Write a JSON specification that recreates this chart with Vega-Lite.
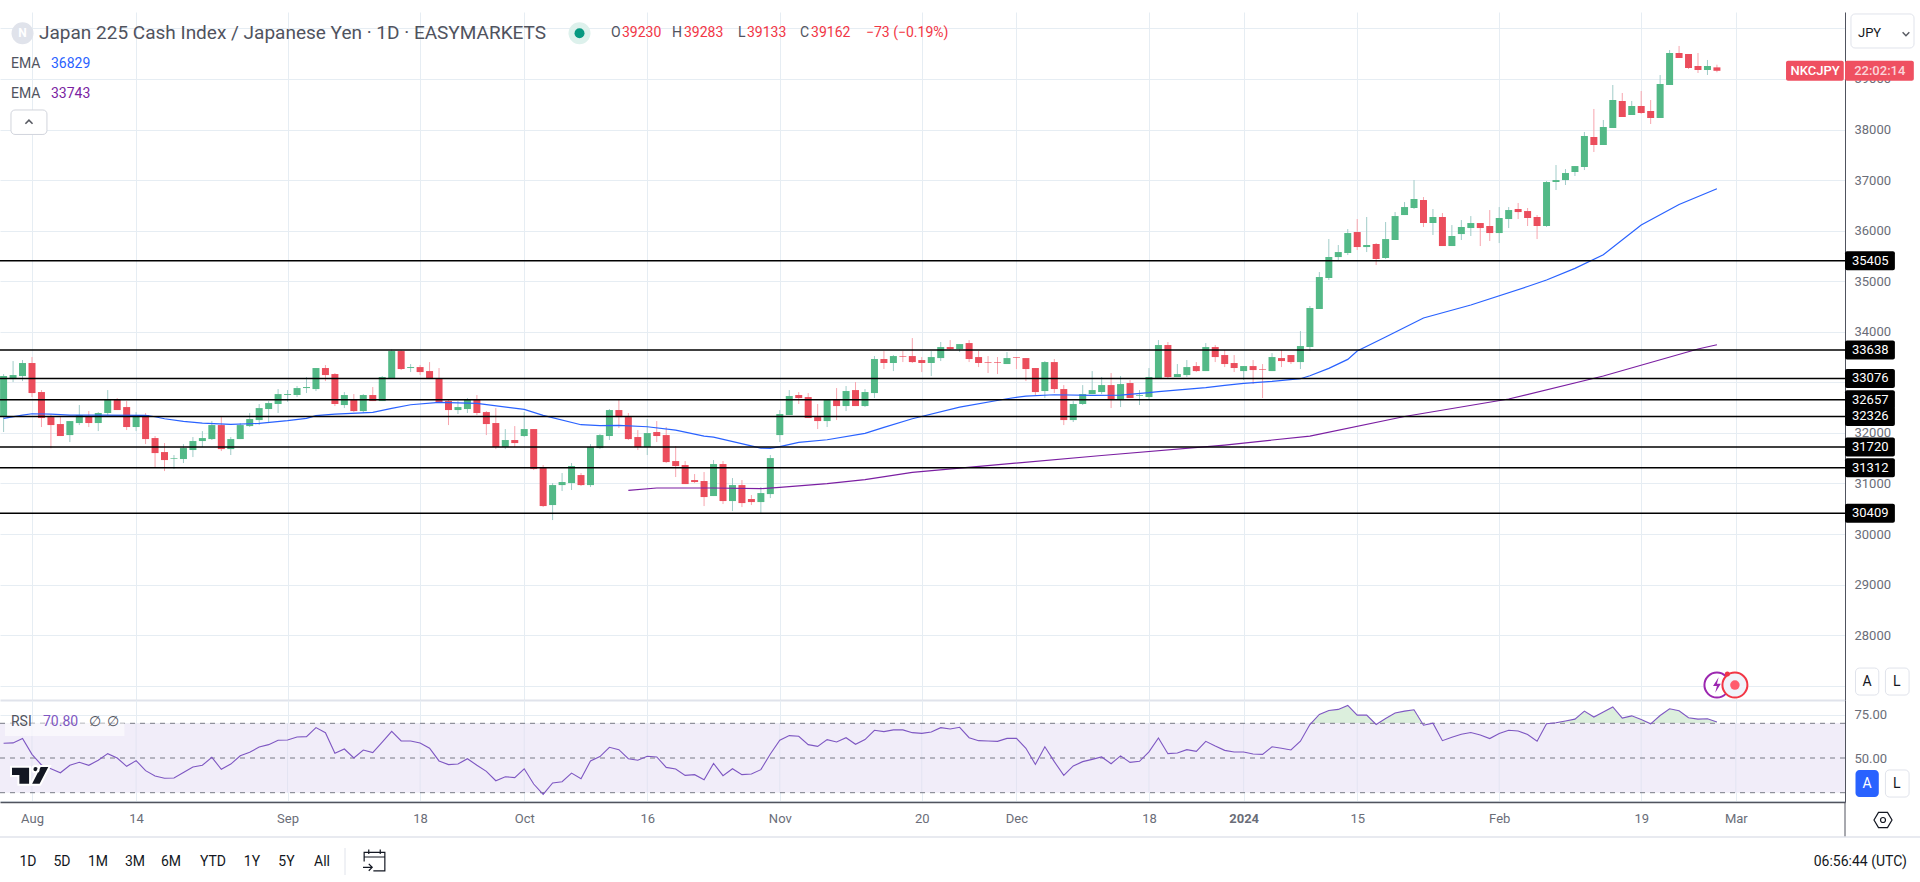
{"$schema":"https://vega.github.io/schema/vega-lite/v6.json","background":"white","padding":{"left":-1,"top":12,"right":0,"bottom":0},"spacing":0,"bounds":"flush",
"config":{"font":"Roboto","view":{"stroke":null},"text":{"baseline":"middle"}},
"data":{"values":[{}]},
"datasets":{
"candles":[
{"bar":-3,"o":32333,"h":33164,"l":32017,"c":33124},{"bar":-2,"o":33065,"h":33421,"l":33006,"c":33144},{"bar":-1,"o":33124,"h":33441,"l":33025,"c":33382},{"bar":0,"o":33382,"h":33500,"l":32709,"c":32788},{"bar":1,"o":32808,"h":32847,"l":32116,"c":32294},{"bar":2,"o":32313,"h":32373,"l":31694,"c":32155},{"bar":3,"o":32175,"h":32313,"l":31938,"c":31938},{"bar":4,"o":31957,"h":32234,"l":31819,"c":32234},{"bar":5,"o":32195,"h":32551,"l":32155,"c":32353},{"bar":6,"o":32333,"h":32432,"l":32116,"c":32195},
{"bar":7,"o":32195,"h":32412,"l":32036,"c":32393},{"bar":8,"o":32393,"h":32847,"l":32353,"c":32656},{"bar":9,"o":32656,"h":32689,"l":32452,"c":32452},{"bar":10,"o":32511,"h":32630,"l":32056,"c":32116},{"bar":11,"o":32116,"h":32412,"l":32036,"c":32353},{"bar":12,"o":32353,"h":32393,"l":31779,"c":31878},{"bar":13,"o":31898,"h":31938,"l":31305,"c":31601},{"bar":14,"o":31621,"h":31799,"l":31245,"c":31463},{"bar":15,"o":31489,"h":31562,"l":31285,"c":31502},{"bar":16,"o":31483,"h":31779,"l":31404,"c":31700},
{"bar":17,"o":31661,"h":31918,"l":31522,"c":31839},{"bar":18,"o":31839,"h":32036,"l":31720,"c":31898},{"bar":19,"o":31878,"h":32234,"l":31859,"c":32155},{"bar":20,"o":32155,"h":32313,"l":31641,"c":31680},{"bar":21,"o":31680,"h":31918,"l":31562,"c":31878},{"bar":22,"o":31878,"h":32195,"l":31878,"c":32155},{"bar":23,"o":32135,"h":32393,"l":32116,"c":32274},{"bar":24,"o":32254,"h":32571,"l":32155,"c":32491},{"bar":25,"o":32472,"h":32630,"l":32195,"c":32590},{"bar":26,"o":32571,"h":32867,"l":32393,"c":32768},
{"bar":27,"o":32749,"h":32847,"l":32617,"c":32768},{"bar":28,"o":32749,"h":32927,"l":32709,"c":32887},{"bar":29,"o":32887,"h":33105,"l":32788,"c":32907},{"bar":30,"o":32867,"h":33283,"l":32828,"c":33283},{"bar":31,"o":33283,"h":33342,"l":33025,"c":33144},{"bar":32,"o":33164,"h":33184,"l":32531,"c":32571},{"bar":33,"o":32551,"h":32808,"l":32491,"c":32749},{"bar":34,"o":32656,"h":32768,"l":32412,"c":32432},{"bar":35,"o":32432,"h":32768,"l":32393,"c":32749},{"bar":36,"o":32749,"h":32907,"l":32630,"c":32630},
{"bar":37,"o":32630,"h":33124,"l":32630,"c":33105},{"bar":38,"o":33085,"h":33652,"l":33085,"c":33619},{"bar":39,"o":33619,"h":33639,"l":33243,"c":33263},{"bar":40,"o":33283,"h":33362,"l":33203,"c":33302},{"bar":41,"o":33302,"h":33342,"l":33144,"c":33203},{"bar":42,"o":33223,"h":33401,"l":33065,"c":33065},{"bar":43,"o":33085,"h":33283,"l":32610,"c":32610},{"bar":44,"o":32630,"h":32650,"l":32155,"c":32452},{"bar":45,"o":32452,"h":32630,"l":32373,"c":32511},{"bar":46,"o":32472,"h":32689,"l":32393,"c":32670},
{"bar":47,"o":32670,"h":32749,"l":32353,"c":32393},{"bar":48,"o":32412,"h":32432,"l":31957,"c":32175},{"bar":49,"o":32195,"h":32491,"l":31680,"c":31720},{"bar":50,"o":31720,"h":32076,"l":31680,"c":31859},{"bar":51,"o":31859,"h":32135,"l":31720,"c":31799},{"bar":52,"o":31938,"h":32412,"l":31918,"c":32076},{"bar":53,"o":32076,"h":32076,"l":31265,"c":31285},{"bar":54,"o":31305,"h":31364,"l":30533,"c":30553},{"bar":55,"o":30573,"h":31008,"l":30276,"c":30968},{"bar":56,"o":30968,"h":31206,"l":30850,"c":31028},
{"bar":57,"o":31008,"h":31404,"l":30870,"c":31344},{"bar":58,"o":31166,"h":31206,"l":30949,"c":30968},{"bar":59,"o":30968,"h":31779,"l":30929,"c":31720},{"bar":60,"o":31700,"h":31977,"l":31680,"c":31957},{"bar":61,"o":31938,"h":32472,"l":31859,"c":32452},{"bar":62,"o":32452,"h":32670,"l":32096,"c":32313},{"bar":63,"o":32313,"h":32393,"l":31859,"c":31878},{"bar":64,"o":31918,"h":32056,"l":31661,"c":31720},{"bar":65,"o":31720,"h":32274,"l":31562,"c":31997},{"bar":66,"o":32017,"h":32234,"l":31819,"c":31938},
{"bar":67,"o":31957,"h":32116,"l":31404,"c":31423},{"bar":68,"o":31443,"h":31740,"l":31127,"c":31344},{"bar":69,"o":31364,"h":31443,"l":30988,"c":30988},{"bar":70,"o":31067,"h":31186,"l":31008,"c":31028},{"bar":71,"o":31048,"h":31226,"l":30553,"c":30731},{"bar":72,"o":30751,"h":31463,"l":30751,"c":31384},{"bar":73,"o":31384,"h":31443,"l":30593,"c":30652},{"bar":74,"o":30652,"h":31107,"l":30454,"c":30968},{"bar":75,"o":30968,"h":31067,"l":30533,"c":30612},{"bar":76,"o":30692,"h":30771,"l":30573,"c":30632},
{"bar":77,"o":30632,"h":30929,"l":30395,"c":30810},{"bar":78,"o":30790,"h":31562,"l":30711,"c":31502},{"bar":79,"o":31957,"h":32452,"l":31819,"c":32373},{"bar":80,"o":32353,"h":32847,"l":32353,"c":32729},{"bar":81,"o":32749,"h":32808,"l":32571,"c":32689},{"bar":82,"o":32709,"h":32788,"l":32294,"c":32294},{"bar":83,"o":32313,"h":32571,"l":32076,"c":32234},{"bar":84,"o":32234,"h":32670,"l":32116,"c":32656},{"bar":85,"o":32656,"h":32887,"l":32254,"c":32531},{"bar":86,"o":32531,"h":32927,"l":32432,"c":32828},
{"bar":87,"o":32847,"h":33006,"l":32531,"c":32531},{"bar":88,"o":32531,"h":32867,"l":32511,"c":32808},{"bar":89,"o":32788,"h":33520,"l":32689,"c":33461},{"bar":90,"o":33461,"h":33619,"l":33263,"c":33382},{"bar":91,"o":33382,"h":33540,"l":33223,"c":33520},{"bar":92,"o":33520,"h":33619,"l":33401,"c":33507},{"bar":93,"o":33520,"h":33876,"l":33382,"c":33401},{"bar":94,"o":33441,"h":33500,"l":33203,"c":33382},{"bar":95,"o":33382,"h":33619,"l":33124,"c":33500},{"bar":96,"o":33480,"h":33797,"l":33421,"c":33698},
{"bar":97,"o":33698,"h":33836,"l":33639,"c":33658},{"bar":98,"o":33658,"h":33757,"l":33599,"c":33757},{"bar":99,"o":33777,"h":33836,"l":33401,"c":33461},{"bar":100,"o":33500,"h":33619,"l":33302,"c":33382},{"bar":101,"o":33401,"h":33520,"l":33184,"c":33388},{"bar":102,"o":33401,"h":33500,"l":33164,"c":33388},{"bar":103,"o":33362,"h":33599,"l":33362,"c":33480},{"bar":104,"o":33500,"h":33500,"l":33263,"c":33487},{"bar":105,"o":33480,"h":33480,"l":33025,"c":33263},{"bar":106,"o":33283,"h":33283,"l":32729,"c":32808},
{"bar":107,"o":32828,"h":33421,"l":32689,"c":33401},{"bar":108,"o":33401,"h":33461,"l":32788,"c":32867},{"bar":109,"o":32867,"h":32946,"l":32155,"c":32254},{"bar":110,"o":32254,"h":32630,"l":32215,"c":32571},{"bar":111,"o":32571,"h":32946,"l":32551,"c":32768},{"bar":112,"o":32768,"h":33223,"l":32768,"c":32847},{"bar":113,"o":32808,"h":33105,"l":32768,"c":32946},{"bar":114,"o":32946,"h":33184,"l":32491,"c":32670},{"bar":115,"o":32670,"h":33124,"l":32511,"c":32966},{"bar":116,"o":32986,"h":33045,"l":32689,"c":32689},
{"bar":117,"o":32735,"h":32847,"l":32551,"c":32749},{"bar":118,"o":32709,"h":33283,"l":32650,"c":33105},{"bar":119,"o":33065,"h":33836,"l":33065,"c":33738},{"bar":120,"o":33738,"h":33797,"l":33065,"c":33105},{"bar":121,"o":33105,"h":33362,"l":33105,"c":33164},{"bar":122,"o":33144,"h":33441,"l":33105,"c":33302},{"bar":123,"o":33322,"h":33401,"l":33203,"c":33223},{"bar":124,"o":33223,"h":33777,"l":33223,"c":33698},{"bar":125,"o":33698,"h":33738,"l":33401,"c":33500},{"bar":126,"o":33540,"h":33639,"l":33302,"c":33362},
{"bar":127,"o":33382,"h":33540,"l":33203,"c":33283},{"bar":128,"o":33223,"h":33322,"l":33045,"c":33322},{"bar":129,"o":33322,"h":33441,"l":32966,"c":33243},{"bar":130,"o":33263,"h":33362,"l":32689,"c":33250},{"bar":131,"o":33223,"h":33579,"l":33223,"c":33500},{"bar":132,"o":33480,"h":33639,"l":33302,"c":33421},{"bar":133,"o":33540,"h":33540,"l":33362,"c":33401},{"bar":134,"o":33401,"h":34014,"l":33263,"c":33718},{"bar":135,"o":33699,"h":34510,"l":33620,"c":34470},{"bar":136,"o":34451,"h":35182,"l":34451,"c":35083},
{"bar":137,"o":35064,"h":35835,"l":35024,"c":35479},{"bar":138,"o":35478,"h":35716,"l":35419,"c":35577},{"bar":139,"o":35558,"h":36032,"l":35518,"c":35953},{"bar":140,"o":35973,"h":36230,"l":35617,"c":35676},{"bar":141,"o":35676,"h":36270,"l":35577,"c":35716},{"bar":142,"o":35736,"h":35755,"l":35320,"c":35439},{"bar":143,"o":35459,"h":36171,"l":35439,"c":35834},{"bar":144,"o":35815,"h":36368,"l":35815,"c":36289},{"bar":145,"o":36309,"h":36566,"l":36309,"c":36467},{"bar":146,"o":36448,"h":37001,"l":36428,"c":36626},
{"bar":147,"o":36606,"h":36665,"l":36072,"c":36151},{"bar":148,"o":36151,"h":36428,"l":35914,"c":36270},{"bar":149,"o":36270,"h":36349,"l":35696,"c":35696},{"bar":150,"o":35696,"h":36111,"l":35696,"c":35894},{"bar":151,"o":35933,"h":36210,"l":35815,"c":36072},{"bar":152,"o":36052,"h":36289,"l":35894,"c":36151},{"bar":153,"o":36151,"h":36151,"l":35696,"c":36052},{"bar":154,"o":36092,"h":36408,"l":35795,"c":35953},{"bar":155,"o":35953,"h":36467,"l":35755,"c":36250},{"bar":156,"o":36230,"h":36467,"l":36052,"c":36408},
{"bar":157,"o":36428,"h":36547,"l":36230,"c":36368},{"bar":158,"o":36388,"h":36448,"l":36092,"c":36250},{"bar":159,"o":36270,"h":36309,"l":35834,"c":36092},{"bar":160,"o":36092,"h":36982,"l":36072,"c":36962},{"bar":161,"o":36962,"h":37298,"l":36804,"c":37001},{"bar":162,"o":37001,"h":37219,"l":36903,"c":37140},{"bar":163,"o":37160,"h":37278,"l":37081,"c":37278},{"bar":164,"o":37259,"h":37952,"l":37199,"c":37872},{"bar":165,"o":37853,"h":38407,"l":37556,"c":37694},{"bar":166,"o":37694,"h":38189,"l":37694,"c":38050},
{"bar":167,"o":38031,"h":38881,"l":38031,"c":38584},{"bar":168,"o":38565,"h":38723,"l":38248,"c":38248},{"bar":169,"o":38288,"h":38565,"l":38288,"c":38466},{"bar":170,"o":38466,"h":38762,"l":38308,"c":38327},{"bar":171,"o":38367,"h":38584,"l":38110,"c":38228},{"bar":172,"o":38228,"h":39079,"l":38228,"c":38901},{"bar":173,"o":38881,"h":39573,"l":38881,"c":39514},{"bar":174,"o":39514,"h":39653,"l":39415,"c":39415},{"bar":175,"o":39494,"h":39494,"l":39198,"c":39217},{"bar":176,"o":39257,"h":39514,"l":39119,"c":39178},
{"bar":177,"o":39178,"h":39376,"l":39079,"c":39257},{"bar":178,"o":39230,"h":39283,"l":39133,"c":39162}],
"ema50":[{"bar":-3,"ema":32287},{"bar":-1,"ema":32353},{"bar":0,"ema":32379},{"bar":2,"ema":32373},{"bar":4,"ema":32353},{"bar":7,"ema":32353},{"bar":12,"ema":32346},{"bar":13,"ema":32320},{"bar":14,"ema":32280},{"bar":16,"ema":32228},{"bar":18,"ema":32195},{"bar":21,"ema":32168},{"bar":24,"ema":32188},{"bar":27,"ema":32241},{"bar":29,"ema":32287},{"bar":30,"ema":32340},{"bar":32,"ema":32373},{"bar":36,"ema":32406},{"bar":38,"ema":32485},{"bar":40,"ema":32557},{"bar":43,"ema":32604},{"bar":47,"ema":32584},{"bar":52,"ema":32465},{"bar":54,"ema":32346},{"bar":58,"ema":32162},{"bar":60,"ema":32142},{"bar":62,"ema":32149},{"bar":65,"ema":32122},{"bar":68,"ema":32056},{"bar":71,"ema":31938},{"bar":72,"ema":31918},{"bar":77,"ema":31700},{"bar":78,"ema":31694},{"bar":79,"ema":31727},{"bar":81,"ema":31812},{"bar":84,"ema":31865},{"bar":88,"ema":31990},{"bar":90,"ema":32109},{"bar":93,"ema":32280},{"bar":98,"ema":32511},{"bar":103,"ema":32676},{"bar":105,"ema":32729},{"bar":108,"ema":32755},{"bar":112,"ema":32742},{"bar":115,"ema":32749},{"bar":118,"ema":32795},{"bar":119,"ema":32815},{"bar":124,"ema":32894},{"bar":126,"ema":32940},{"bar":128,"ema":32979},{"bar":131,"ema":33019},{"bar":134,"ema":33072},{"bar":135,"ema":33131},{"bar":137,"ema":33276},{"bar":139,"ema":33454},{"bar":140,"ema":33620},{"bar":143,"ema":33897},{"bar":147,"ema":34272},{"bar":152,"ema":34530},{"bar":158,"ema":34895},{"bar":160,"ema":35024},{"bar":163,"ema":35255},{"bar":166,"ema":35525},{"bar":170,"ema":36112},{"bar":174,"ema":36518},{"bar":178,"ema":36829}],
"ema200":[{"bar":63,"ema":30864},{"bar":66,"ema":30910},{"bar":72,"ema":30910},{"bar":77,"ema":30896},{"bar":79,"ema":30924},{"bar":84,"ema":30995},{"bar":88,"ema":31074},{"bar":93,"ema":31220},{"bar":98,"ema":31305},{"bar":113,"ema":31553},{"bar":126,"ema":31760},{"bar":135,"ema":31938},{"bar":145,"ema":32324},{"bar":156,"ema":32670},{"bar":166,"ema":33125},{"bar":176,"ema":33659},{"bar":178,"ema":33743}],
"levels":[{"level":35405},{"level":33638},{"level":33076},{"level":32657},{"level":32326},{"level":31720},{"level":31312},{"level":30409}],
"ticks":[{"bar":0},{"bar":11},{"bar":27},{"bar":41},{"bar":52},{"bar":65},{"bar":79},{"bar":94},{"bar":104},{"bar":118},{"bar":128},{"bar":140},{"bar":155},{"bar":170},{"bar":180}],
"rsiLevels":[{"level":70},{"level":50},{"level":30}],
"rsi":[{"bar":-3,"rsi":58.5},{"bar":-2,"rsi":58.7},{"bar":-1,"rsi":61.2},{"bar":0,"rsi":52.1},{"bar":1,"rsi":46},{"bar":2,"rsi":43.8},{"bar":3,"rsi":41.5},{"bar":4,"rsi":45.8},{"bar":5,"rsi":47.5},{"bar":6,"rsi":45.8},{"bar":7,"rsi":48.7},{"bar":8,"rsi":52.5},{"bar":9,"rsi":50},{"bar":10,"rsi":45.2},{"bar":11,"rsi":48.5},{"bar":12,"rsi":42.7},{"bar":13,"rsi":39.6},{"bar":14,"rsi":38.3},{"bar":15,"rsi":38.5},{"bar":16,"rsi":41.7},{"bar":17,"rsi":44.8},{"bar":18,"rsi":45.8},{"bar":19,"rsi":50.4},{"bar":20,"rsi":43.5},{"bar":21,"rsi":46.5},{"bar":22,"rsi":51.3},{"bar":23,"rsi":53.3},{"bar":24,"rsi":56.3},{"bar":25,"rsi":57.7},{"bar":26,"rsi":60.2},{"bar":27,"rsi":60.4},{"bar":28,"rsi":62.1},{"bar":29,"rsi":62.3},{"bar":30,"rsi":67.5},{"bar":31,"rsi":64.6},{"bar":32,"rsi":52.7},{"bar":33,"rsi":55.2},{"bar":34,"rsi":50},{"bar":35,"rsi":54.6},{"bar":36,"rsi":53.1},{"bar":37,"rsi":59.2},{"bar":38,"rsi":65.4},{"bar":39,"rsi":59.8},{"bar":40,"rsi":59.8},{"bar":41,"rsi":58.7},{"bar":42,"rsi":55.6},{"bar":43,"rsi":48.3},{"bar":44,"rsi":46.2},{"bar":45,"rsi":46.5},{"bar":46,"rsi":49.6},{"bar":47,"rsi":45.8},{"bar":48,"rsi":42.3},{"bar":49,"rsi":36.9},{"bar":50,"rsi":39.2},{"bar":51,"rsi":38.7},{"bar":52,"rsi":43.8},{"bar":53,"rsi":35},{"bar":54,"rsi":29},{"bar":55,"rsi":35.6},{"bar":56,"rsi":36.3},{"bar":57,"rsi":41.3},{"bar":58,"rsi":38.1},{"bar":59,"rsi":48.3},{"bar":60,"rsi":50.8},{"bar":61,"rsi":56.2},{"bar":62,"rsi":54.8},{"bar":63,"rsi":49.6},{"bar":64,"rsi":48.7},{"bar":65,"rsi":51},{"bar":66,"rsi":50.6},{"bar":67,"rsi":44.6},{"bar":68,"rsi":43.7},{"bar":69,"rsi":40},{"bar":70,"rsi":40.4},{"bar":71,"rsi":37.5},{"bar":72,"rsi":46.9},{"bar":73,"rsi":39.8},{"bar":74,"rsi":43.8},{"bar":75,"rsi":40.4},{"bar":76,"rsi":40.8},{"bar":77,"rsi":43.3},{"bar":78,"rsi":52.3},{"bar":79,"rsi":60.2},{"bar":80,"rsi":62.9},{"bar":81,"rsi":62.5},{"bar":82,"rsi":57.7},{"bar":83,"rsi":56.7},{"bar":84,"rsi":60.6},{"bar":85,"rsi":59.2},{"bar":86,"rsi":61.7},{"bar":87,"rsi":57.9},{"bar":88,"rsi":60.6},{"bar":89,"rsi":66},{"bar":90,"rsi":65.2},{"bar":91,"rsi":66.2},{"bar":92,"rsi":66.2},{"bar":93,"rsi":64.6},{"bar":94,"rsi":64.2},{"bar":95,"rsi":65},{"bar":96,"rsi":67.5},{"bar":97,"rsi":66.7},{"bar":98,"rsi":67.7},{"bar":99,"rsi":61.7},{"bar":100,"rsi":60},{"bar":101,"rsi":59.8},{"bar":102,"rsi":59.6},{"bar":103,"rsi":61.3},{"bar":104,"rsi":61.3},{"bar":105,"rsi":55.6},{"bar":106,"rsi":46.3},{"bar":107,"rsi":56.5},{"bar":108,"rsi":47.9},{"bar":109,"rsi":40},{"bar":110,"rsi":45.4},{"bar":111,"rsi":47.9},{"bar":112,"rsi":49.2},{"bar":113,"rsi":50.6},{"bar":114,"rsi":46.7},{"bar":115,"rsi":51.2},{"bar":116,"rsi":47.5},{"bar":117,"rsi":48.1},{"bar":118,"rsi":53.5},{"bar":119,"rsi":61.5},{"bar":120,"rsi":52.5},{"bar":121,"rsi":52.9},{"bar":122,"rsi":54.8},{"bar":123,"rsi":53.8},{"bar":124,"rsi":59.6},{"bar":125,"rsi":56.9},{"bar":126,"rsi":54.4},{"bar":127,"rsi":53.5},{"bar":128,"rsi":53.5},{"bar":129,"rsi":52.3},{"bar":130,"rsi":52.1},{"bar":131,"rsi":56.5},{"bar":132,"rsi":55.6},{"bar":133,"rsi":54.6},{"bar":134,"rsi":59.7},{"bar":135,"rsi":69.3},{"bar":136,"rsi":75.1},{"bar":137,"rsi":77.4},{"bar":138,"rsi":78},{"bar":139,"rsi":80.3},{"bar":140,"rsi":74.7},{"bar":141,"rsi":74.7},{"bar":142,"rsi":69.3},{"bar":143,"rsi":72.8},{"bar":144,"rsi":75.9},{"bar":145,"rsi":77},{"bar":146,"rsi":77.8},{"bar":147,"rsi":68.9},{"bar":148,"rsi":70.1},{"bar":149,"rsi":60},{"bar":150,"rsi":62},{"bar":151,"rsi":63.7},{"bar":152,"rsi":64.7},{"bar":153,"rsi":63.3},{"bar":154,"rsi":61.2},{"bar":155,"rsi":64.1},{"bar":156,"rsi":66},{"bar":157,"rsi":65.6},{"bar":158,"rsi":63.5},{"bar":159,"rsi":59.7},{"bar":160,"rsi":69.7},{"bar":161,"rsi":70.3},{"bar":162,"rsi":71.3},{"bar":163,"rsi":72.4},{"bar":164,"rsi":77},{"bar":165,"rsi":73.6},{"bar":166,"rsi":76.5},{"bar":167,"rsi":79.4},{"bar":168,"rsi":73},{"bar":169,"rsi":74.3},{"bar":170,"rsi":72.2},{"bar":171,"rsi":69.7},{"bar":172,"rsi":74.5},{"bar":173,"rsi":78.4},{"bar":174,"rsi":77.2},{"bar":175,"rsi":73.2},{"bar":176,"rsi":72.4},{"bar":177,"rsi":72.6},{"bar":178,"rsi":70.8}]
},
"vconcat":[
{"width":1845,"height":688,"layer":[
{"data":{"name":"candles"},"mark":{"type":"rule","strokeWidth":1},"encoding":{
"x":{"field":"bar","type":"quantitative","title":null,"scale":{"domain":[-3.38,191.53],"nice":false,"zero":false,"padding":0},"axis":{"orient":"bottom","values":[0,11,27,41,52,65,79,94,104,118,128,140,155,170,180],"grid":true,"gridColor":"#E6EDF3","gridWidth":1,"labels":false,"ticks":false,"domain":true,"domainColor":"#E0E3EB","domainWidth":2,"title":null}},
"y":{"field":"l","type":"quantitative","title":null,"scale":{"domain":[26717,40325],"nice":false,"zero":false,"padding":0},"axis":{"orient":"right","values":[27000,28000,29000,30000,31000,32000,33000,34000,35000,36000,37000,38000,39000,40000],"grid":true,"gridColor":"#E6EDF3","gridWidth":1,"ticks":false,"domain":true,"domainColor":"#50535E","domainWidth":1,"labelColor":"#6A6D78","labelFontSize":13,"labelPadding":9,"title":null,"labelExpr":"datum.value<28000||datum.value>39000||datum.value==33000?'':format(datum.value,'d')"}},
"y2":{"field":"h"},
"color":{"condition":{"test":"datum.c>=datum.o","value":"#A0CCC8"},"value":"#F7A5AE"}}},
{"data":{"name":"candles"},"mark":{"type":"bar","size":7,"orient":"vertical"},"encoding":{"x":{"field":"bar","type":"quantitative"},"y":{"field":"o","type":"quantitative"},"y2":{"field":"c"},"color":{"condition":{"test":"datum.c>=datum.o","value":"#53B987"},"value":"#EB4D5C"}}},
{"data":{"name":"ema50"},"mark":{"type":"line","color":"#2962FF","strokeWidth":1.2},"encoding":{"x":{"field":"bar","type":"quantitative"},"y":{"field":"ema","type":"quantitative"}}},
{"data":{"name":"ema200"},"mark":{"type":"line","color":"#7B1FA2","strokeWidth":1.2},"encoding":{"x":{"field":"bar","type":"quantitative"},"y":{"field":"ema","type":"quantitative"}}},
{"data":{"name":"levels"},"mark":{"type":"rule","color":"#000000","strokeWidth":1.5},"encoding":{"y":{"field":"level","type":"quantitative"}}},
{"data":{"name":"levels"},"mark":{"type":"bar","orient":"horizontal","size":19,"color":"#000000","cornerRadius":2},"encoding":{"x":{"datum":191.53},"x2":{"datum":196.8},"y":{"field":"level","type":"quantitative"}}},
{"data":{"name":"levels"},"mark":{"type":"text","color":"#FFFFFF","fontSize":13,"align":"center"},"encoding":{"x":{"datum":194.2},"y":{"field":"level","type":"quantitative"},"text":{"field":"level","type":"quantitative","format":"d"}}},
{"mark":{"type":"bar","orient":"horizontal","size":20,"color":"#EF5061","cornerRadius":2},"encoding":{"x":{"datum":185.3},"x2":{"datum":191.4},"y":{"datum":39162}}},
{"mark":{"type":"bar","orient":"horizontal","size":20,"color":"#EF5061","cornerRadius":2},"encoding":{"x":{"datum":191.53},"x2":{"datum":198.8},"y":{"datum":39162}}},
{"mark":{"type":"text","color":"#FFFFFF","fontSize":13,"fontWeight":500,"align":"center"},"encoding":{"x":{"datum":188.37},"y":{"datum":39162},"text":{"value":"NKCJPY"}}},
{"mark":{"type":"text","color":"#FBD5DA","fontSize":13,"fontWeight":500,"align":"center"},"encoding":{"x":{"datum":195.2},"y":{"datum":39162},"text":{"value":"22:02:14"}}},
{"mark":{"type":"rect","fill":"#FFFFFF","stroke":"#E0E3EB","cornerRadius":4},"encoding":{"x":{"datum":192.16},"x2":{"datum":198.82},"y":{"datum":40286},"y2":{"datum":39613}}},
{"mark":{"type":"text","color":"#131722","fontSize":13,"align":"left"},"encoding":{"x":{"datum":192.9},"y":{"datum":39905},"text":{"value":"JPY"}}},
{"mark":{"type":"point","filled":false,"stroke":"#131722","strokeWidth":1.5,"shape":"M-.8,-.4 L0,.4 L.8,-.4","size":70},"encoding":{"x":{"datum":197.97},"y":{"datum":39890}}},
{"mark":{"type":"point","filled":true,"opacity":1,"color":"#E0E3EB","shape":"circle","size":484},"encoding":{"x":{"datum":-1},"y":{"datum":39905}}},
{"mark":{"type":"text","color":"#FFFFFF","fontSize":12,"fontWeight":700,"align":"center"},"encoding":{"x":{"datum":-1},"y":{"datum":39905},"text":{"value":"N"}}},
{"mark":{"type":"text","color":"#50535E","fontSize":19,"align":"left"},"encoding":{"x":{"datum":0.74},"y":{"datum":39905},"text":{"value":"Japan 225 Cash Index / Japanese Yen · 1D · EASYMARKETS"}}},
{"mark":{"type":"point","filled":true,"opacity":1,"color":"#DDF1EC","shape":"circle","size":484},"encoding":{"x":{"datum":57.84},"y":{"datum":39905}}},
{"mark":{"type":"point","filled":true,"opacity":1,"color":"#089981","shape":"circle","size":100},"encoding":{"x":{"datum":57.84},"y":{"datum":39905}}},
{"mark":{"type":"text","color":"#50535E","fontSize":14,"align":"left"},"encoding":{"x":{"datum":61.17},"y":{"datum":39905},"text":{"value":"O"}}},
{"mark":{"type":"text","color":"#F23645","fontSize":14,"align":"left"},"encoding":{"x":{"datum":62.33},"y":{"datum":39905},"text":{"value":"39230"}}},
{"mark":{"type":"text","color":"#50535E","fontSize":14,"align":"left"},"encoding":{"x":{"datum":67.6},"y":{"datum":39905},"text":{"value":"H"}}},
{"mark":{"type":"text","color":"#F23645","fontSize":14,"align":"left"},"encoding":{"x":{"datum":68.88},"y":{"datum":39905},"text":{"value":"39283"}}},
{"mark":{"type":"text","color":"#50535E","fontSize":14,"align":"left"},"encoding":{"x":{"datum":74.58},"y":{"datum":39905},"text":{"value":"L"}}},
{"mark":{"type":"text","color":"#F23645","fontSize":14,"align":"left"},"encoding":{"x":{"datum":75.53},"y":{"datum":39905},"text":{"value":"39133"}}},
{"mark":{"type":"text","color":"#50535E","fontSize":14,"align":"left"},"encoding":{"x":{"datum":81.13},"y":{"datum":39905},"text":{"value":"C"}}},
{"mark":{"type":"text","color":"#F23645","fontSize":14,"align":"left"},"encoding":{"x":{"datum":82.3},"y":{"datum":39905},"text":{"value":"39162"}}},
{"mark":{"type":"text","color":"#F23645","fontSize":14,"align":"left"},"encoding":{"x":{"datum":88.1},"y":{"datum":39905},"text":{"value":"−73 (−0.19%)"}}},
{"mark":{"type":"text","color":"#50535E","fontSize":14,"align":"left"},"encoding":{"x":{"datum":-2.22},"y":{"datum":39293},"text":{"value":"EMA"}}},
{"mark":{"type":"text","color":"#2962FF","fontSize":14,"align":"left"},"encoding":{"x":{"datum":2},"y":{"datum":39293},"text":{"value":"36829"}}},
{"mark":{"type":"text","color":"#50535E","fontSize":14,"align":"left"},"encoding":{"x":{"datum":-2.22},"y":{"datum":38713},"text":{"value":"EMA"}}},
{"mark":{"type":"text","color":"#7B1FA2","fontSize":14,"align":"left"},"encoding":{"x":{"datum":2},"y":{"datum":38713},"text":{"value":"33743"}}},
{"mark":{"type":"rect","fill":"#FFFFFF","stroke":"#D1D4DC","cornerRadius":4},"encoding":{"x":{"datum":-2.22},"x2":{"datum":1.58},"y":{"datum":38387},"y2":{"datum":37903}}},
{"mark":{"type":"point","filled":false,"stroke":"#131722","strokeWidth":1.6,"shape":"M-.8,.4 L0,-.4 L.8,.4","size":80},"encoding":{"x":{"datum":-0.32},"y":{"datum":38149}}},
{"mark":{"type":"rect","fill":"#FFFFFF","stroke":"#E0E3EB","cornerRadius":4},"encoding":{"x":{"datum":192.64},"x2":{"datum":195.1},"y":{"datum":27349},"y2":{"datum":26815}}},
{"mark":{"type":"rect","fill":"#FFFFFF","stroke":"#E0E3EB","cornerRadius":4},"encoding":{"x":{"datum":195.8},"x2":{"datum":198.3},"y":{"datum":27349},"y2":{"datum":26815}}},
{"mark":{"type":"text","color":"#131722","fontSize":14,"align":"center"},"encoding":{"x":{"datum":193.85},"y":{"datum":27082},"text":{"value":"A"}}},
{"mark":{"type":"text","color":"#131722","fontSize":14,"align":"center"},"encoding":{"x":{"datum":197},"y":{"datum":27082},"text":{"value":"L"}}},
{"mark":{"type":"point","filled":false,"opacity":1,"fill":"#FFFFFF","stroke":"#9C27B0","strokeWidth":2,"shape":"circle","size":625},"encoding":{"x":{"datum":178},"y":{"datum":27013}}},
{"mark":{"type":"point","filled":true,"opacity":1,"color":"#9C27B0","shape":"M.2,-.9 L-.45,.1 H0 L-.2,.9 L.45,-.15 H0 Z","size":300},"encoding":{"x":{"datum":178},"y":{"datum":27013}}},
{"mark":{"type":"point","filled":false,"opacity":1,"fill":"#F0F3FA","stroke":"#F23645","strokeWidth":2,"shape":"circle","size":625},"encoding":{"x":{"datum":179.9},"y":{"datum":27013}}},
{"mark":{"type":"point","filled":true,"opacity":1,"color":"#FF5D6E","shape":"circle","size":90},"encoding":{"x":{"datum":179.9},"y":{"datum":27013}}},
{"mark":{"type":"point","filled":true,"opacity":1,"color":"#F23645","shape":"circle","size":25},"encoding":{"x":{"datum":179.1},"y":{"datum":27230}}}
]},
{"width":1845,"height":102,"layer":[
{"data":{"name":"rsi"},"mark":{"type":"area","color":"#DCEFDD","opacity":1},"encoding":{
"x":{"field":"bar","type":"quantitative","title":null,"scale":{"domain":[-3.38,191.53],"nice":false,"zero":false,"padding":0},"axis":{"orient":"bottom","values":[0,11,27,41,52,65,79,94,104,118,128,140,155,170,180],"grid":true,"gridColor":"#E6EDF3","gridWidth":1,"labelColor":"#6A6D78","labelFontSize":13,"labelPadding":10,"ticks":false,"domain":true,"domainColor":"#50535E","domainWidth":1.5,"title":null,"labelExpr":"({'0':'Aug','11':'14','27':'Sep','41':'18','52':'Oct','65':'16','79':'Nov','94':'20','104':'Dec','118':'18','128':'2024','140':'15','155':'Feb','170':'19','180':'Mar'})[''+datum.value]","labelFontWeight":{"condition":{"test":"datum.value===128","value":"bold"},"value":"normal"}}},
"y":{"field":"rsi","type":"quantitative","title":null,"scale":{"domain":[24.64,83.43],"nice":false,"zero":false,"padding":0},"axis":{"orient":"right","values":[25,50,75],"grid":true,"gridColor":"#E6EDF3","gridWidth":1,"ticks":false,"domain":true,"domainColor":"#50535E","domainWidth":1,"labelColor":"#6A6D78","labelFontSize":13,"labelPadding":9,"title":null,"labelExpr":"datum.value==25?'':format(datum.value,'.2f')"}},
"y2":{"datum":70}}},
{"mark":{"type":"rect","color":"#F1EDF9","opacity":1},"encoding":{"y":{"datum":70},"y2":{"datum":30}}},
{"data":{"name":"ticks"},"mark":{"type":"rule","color":"#E3E4F2","strokeWidth":1},"encoding":{"x":{"field":"bar","type":"quantitative"},"y":{"datum":70},"y2":{"datum":30}}},
{"data":{"name":"rsiLevels"},"mark":{"type":"rule","color":"#787B86","strokeWidth":1,"strokeDash":[5,5]},"encoding":{"y":{"field":"level","type":"quantitative"}}},
{"data":{"name":"rsi"},"mark":{"type":"line","color":"#7E57C2","strokeWidth":1.1},"encoding":{"x":{"field":"bar","type":"quantitative"},"y":{"field":"rsi","type":"quantitative"}}},
{"mark":{"type":"rect","fill":"#FFFFFF","opacity":0.55},"encoding":{"x":{"datum":-2.85},"x2":{"datum":9.77},"y":{"datum":70.2},"y2":{"datum":62.7}}},
{"mark":{"type":"text","color":"#50535E","fontSize":14,"align":"left"},"encoding":{"x":{"datum":-2.22},"y":{"datum":70.6},"text":{"value":"RSI"}}},
{"mark":{"type":"text","color":"#7E57C2","fontSize":14,"align":"left"},"encoding":{"x":{"datum":1.16},"y":{"datum":70.6},"text":{"value":"70.80"}}},
{"mark":{"type":"text","color":"#50535E","fontSize":14,"align":"left"},"encoding":{"x":{"datum":6},"y":{"datum":70.6},"text":{"value":"∅"}}},
{"mark":{"type":"text","color":"#50535E","fontSize":14,"align":"left"},"encoding":{"x":{"datum":7.9},"y":{"datum":70.6},"text":{"value":"∅"}}},
{"mark":{"type":"point","filled":true,"opacity":1,"color":"#131722","stroke":"#FFFFFF","strokeWidth":2,"shape":"M-1,-.42 H-.02 V.5 H-.62 V.05 H-1 Z M.1,-.3 A.16,.16 0 1 0 .42,-.3 A.16,.16 0 1 0 .1,-.3 Z M.49,-.46 H1 L.5,.5 H0 Z","size":1521},"encoding":{"x":{"datum":-0.16},"y":{"datum":40.2}}},
{"mark":{"type":"rect","fill":"#2962FF","cornerRadius":4},"encoding":{"x":{"datum":192.64},"x2":{"datum":195.1},"y":{"datum":43.1},"y2":{"datum":27.5}}},
{"mark":{"type":"rect","fill":"#FFFFFF","stroke":"#E0E3EB","cornerRadius":4},"encoding":{"x":{"datum":195.8},"x2":{"datum":198.3},"y":{"datum":43.1},"y2":{"datum":27.5}}},
{"mark":{"type":"text","color":"#FFFFFF","fontSize":14,"align":"center"},"encoding":{"x":{"datum":193.85},"y":{"datum":35.3},"text":{"value":"A"}}},
{"mark":{"type":"text","color":"#131722","fontSize":14,"align":"center"},"encoding":{"x":{"datum":197},"y":{"datum":35.3},"text":{"value":"L"}}}
]},
{"width":1845,"height":80,"layer":[
{"mark":{"type":"rule","color":"#50535E","strokeWidth":1},"encoding":{"x":{"datum":1845,"axis":null,"scale":{"domain":[0,1845],"nice":false,"zero":false}},"y":{"datum":0,"axis":null,"scale":{"domain":[0,80],"reverse":true,"nice":false,"zero":false}},"y2":{"datum":35}}},
{"mark":{"type":"rule","color":"#E0E3EB","strokeWidth":1.5},"encoding":{"x":{"datum":0,"axis":null},"x2":{"datum":1920},"y":{"datum":35,"axis":null}}},
{"mark":{"type":"text","fontSize":14,"color":"#131722","align":"center"},"encoding":{"x":{"datum":28,"axis":null},"y":{"datum":60,"axis":null},"text":{"value":"1D"}}},
{"mark":{"type":"text","fontSize":14,"color":"#131722","align":"center"},"encoding":{"x":{"datum":62,"axis":null},"y":{"datum":60,"axis":null},"text":{"value":"5D"}}},
{"mark":{"type":"text","fontSize":14,"color":"#131722","align":"center"},"encoding":{"x":{"datum":98,"axis":null},"y":{"datum":60,"axis":null},"text":{"value":"1M"}}},
{"mark":{"type":"text","fontSize":14,"color":"#131722","align":"center"},"encoding":{"x":{"datum":135,"axis":null},"y":{"datum":60,"axis":null},"text":{"value":"3M"}}},
{"mark":{"type":"text","fontSize":14,"color":"#131722","align":"center"},"encoding":{"x":{"datum":171,"axis":null},"y":{"datum":60,"axis":null},"text":{"value":"6M"}}},
{"mark":{"type":"text","fontSize":14,"color":"#131722","align":"center"},"encoding":{"x":{"datum":213,"axis":null},"y":{"datum":60,"axis":null},"text":{"value":"YTD"}}},
{"mark":{"type":"text","fontSize":14,"color":"#131722","align":"center"},"encoding":{"x":{"datum":252,"axis":null},"y":{"datum":60,"axis":null},"text":{"value":"1Y"}}},
{"mark":{"type":"text","fontSize":14,"color":"#131722","align":"center"},"encoding":{"x":{"datum":286.5,"axis":null},"y":{"datum":60,"axis":null},"text":{"value":"5Y"}}},
{"mark":{"type":"text","fontSize":14,"color":"#131722","align":"center"},"encoding":{"x":{"datum":322,"axis":null},"y":{"datum":60,"axis":null},"text":{"value":"All"}}},
{"mark":{"type":"rule","color":"#E0E3EB","strokeWidth":1},"encoding":{"x":{"datum":345,"axis":null},"y":{"datum":46,"axis":null},"y2":{"datum":73}}},
{"mark":{"type":"point","filled":false,"opacity":1,"stroke":"#131722","strokeWidth":1.2,"shape":"M-.9,.05 V-.75 H.9 V.85 H-.1 M-.9,-.35 H.9 M-.5,-1 V-.6 M.5,-1 V-.6 M-1,.55 H-.2 M-.5,.25 L-.2,.55 L-.5,.85","size":529},"encoding":{"x":{"datum":374.5,"axis":null},"y":{"datum":59,"axis":null}}},
{"mark":{"type":"point","filled":false,"opacity":1,"stroke":"#131722","strokeWidth":1.2,"shape":"M-.5,-.85 H.5 L1,0 L.5,.85 H-.5 L-1,0 Z","size":324},"encoding":{"x":{"datum":1883,"axis":null},"y":{"datum":18,"axis":null}}},
{"mark":{"type":"point","filled":false,"opacity":1,"stroke":"#131722","strokeWidth":1.2,"shape":"circle","size":25},"encoding":{"x":{"datum":1883,"axis":null},"y":{"datum":18,"axis":null}}},
{"mark":{"type":"text","fontSize":14,"color":"#131722","align":"right"},"encoding":{"x":{"datum":1907,"axis":null},"y":{"datum":60,"axis":null},"text":{"value":"06:56:44 (UTC)"}}}
]}
]}
